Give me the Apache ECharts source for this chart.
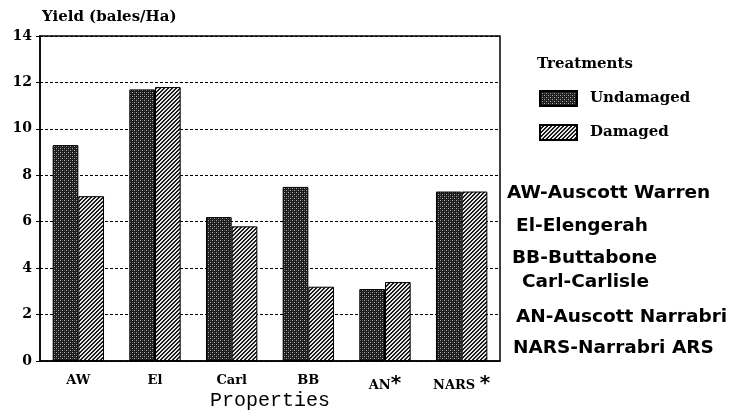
<!DOCTYPE html>
<html><head><meta charset="utf-8">
<script src="https://cdn.jsdelivr.net/npm/echarts@6/dist/echarts.min.js"></script>
<style>html,body{margin:0;padding:0;background:#fff}#c{width:735px;height:417px}</style>
</head><body><div id="c"></div>
<script>
const categories = ['AW', 'El', 'Carl', 'BB', 'AN', 'NARS'];
const starred = ['AN', 'NARS'];
const undamaged = [9.3, 11.7, 6.2, 7.5, 3.1, 7.3];
const damaged = [7.1, 11.8, 5.8, 3.2, 3.4, 7.3];
const yTicks = [0, 2, 4, 6, 8, 10, 12, 14];
const propertyKey = ['AW-Auscott Warren', 'El-Elengerah', 'BB-Buttabone', 'Carl-Carlisle', 'AN-Auscott Narrabri', 'NARS-Narrabri ARS'];

function dotPattern() {
  const c = document.createElement('canvas'); c.width = 4; c.height = 4;
  const g = c.getContext('2d');
  g.fillStyle = '#1a1a1a'; g.fillRect(0, 0, 4, 4);
  g.fillStyle = '#b0b0b0';
  g.fillRect(0, 0, 1, 1); g.fillRect(2, 2, 1, 1);
  g.fillStyle = '#5a5a5a';
  g.fillRect(2, 0, 1, 1); g.fillRect(0, 2, 1, 1);
  return c;
}
function stripePattern() {
  const c = document.createElement('canvas'); c.width = 4; c.height = 4;
  const g = c.getContext('2d');
  g.fillStyle = '#e8e8e8'; g.fillRect(0, 0, 4, 4);
  g.fillStyle = '#1a1a1a';
  for (let i = 0; i < 4; i++) { g.fillRect(3 - i, i, 1, 1); g.fillRect((3 - i + 1) % 4, i, 1, 1); }
  return c;
}

const chart = echarts.init(document.getElementById('c'), null, {renderer: 'canvas'});
const serif = 'DejaVu Serif';
chart.setOption({
  animation: false,
  grid: {left: 40, right: 235, top: 36, bottom: 56, show: true, borderColor: '#000', borderWidth: 1.5,
    containLabel: false, outerBoundsMode: 'none'},
  title: {text: 'Yield (bales/Ha)', left: 37, top: 5,
    textStyle: {fontFamily: serif, fontWeight: 'bold', fontSize: 15, color: '#000'}},
  legend: {
    orient: 'vertical', left: 534, top: 85, itemWidth: 37, itemHeight: 15, itemGap: 17,
    icon: 'rect',
    data: ['Undamaged', 'Damaged'],
    textStyle: {fontFamily: serif, fontWeight: 'bold', fontSize: 15, color: '#000', padding: [0, 0, 0, 8]}
  },
  xAxis: {
    type: 'category', data: categories,
    axisLine: {lineStyle: {color: '#000', width: 1.5}},
    axisTick: {show: false},
    axisLabel: {interval: 0, margin: 13, color: '#000', fontFamily: serif, fontWeight: 'bold', fontSize: 13,
      formatter: v => starred.includes(v) ? (v === 'NARS' ? v + ' {s|*}' : v + '{s|*}') : v,
      rich: {s: {fontSize: 20, fontWeight: 'bold', fontFamily: 'DejaVu Sans', color: '#000', verticalAlign: 'top', padding: [0,0,4,0]}}},
    name: 'Properties', nameLocation: 'middle', nameGap: 30, nameMoveOverlap: false,
    nameTextStyle: {fontFamily: 'Liberation Mono', fontSize: 20, color: '#000'}
  },
  yAxis: {
    type: 'value', min: yTicks[0], max: yTicks[yTicks.length - 1], interval: 2,
    axisLine: {show: true, lineStyle: {color: '#000', width: 1.5}},
    axisTick: {show: true, length: 4, lineStyle: {color: '#000'}},
    axisLabel: {margin: 8, color: '#000', fontFamily: serif, fontWeight: 'bold', fontSize: 14},
    splitLine: {lineStyle: {color: '#000', type: [3, 2], width: 1.2}}
  },
  series: [
    {name: 'Undamaged', type: 'bar', data: undamaged, barGap: '0%', barCategoryGap: '33%',
      itemStyle: {color: {image: dotPattern(), repeat: 'repeat'}, borderColor: '#000', borderWidth: 1}},
    {name: 'Damaged', type: 'bar', data: damaged,
      itemStyle: {color: {image: stripePattern(), repeat: 'repeat'}, borderColor: '#000', borderWidth: 1}}
  ],
  graphic: [
    {type: 'text', left: 537, top: 57, style: {text: 'Treatments', font: 'bold 15px "DejaVu Serif"', fill: '#000'}}
  ].concat(propertyKey.map((t, i) => ({
    type: 'text', left: [507, 516, 512, 522, 516, 513][i], top: [184, 217, 249, 273, 308, 339][i],
    style: {text: t, font: 'bold 18.5px "DejaVu Sans"', fill: '#000'}
  })))
});
</script></body></html>
